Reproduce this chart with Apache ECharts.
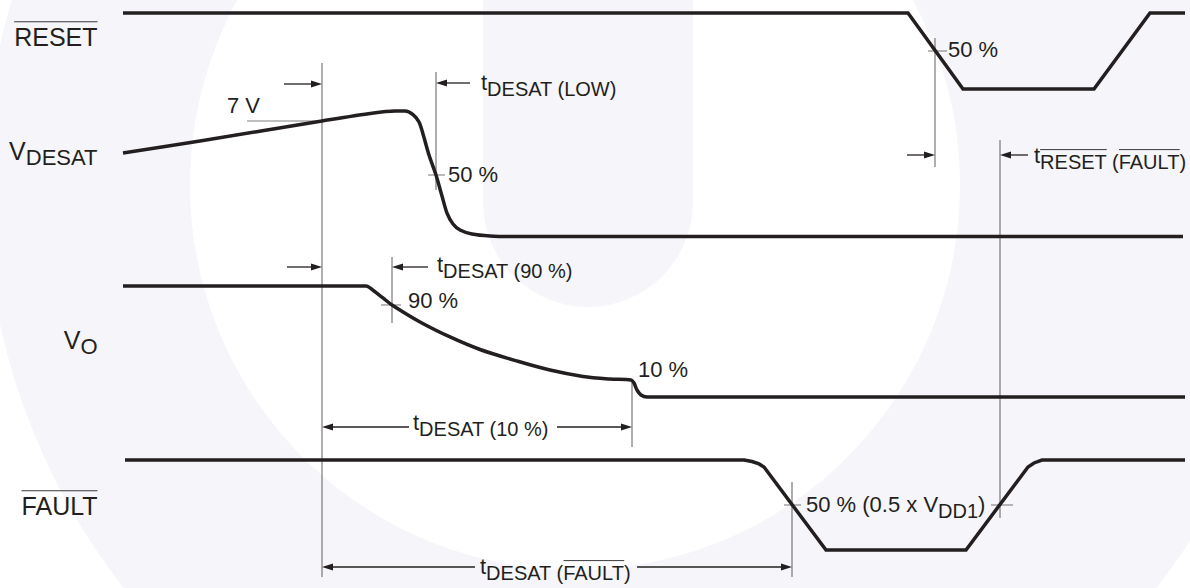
<!DOCTYPE html>
<html>
<head>
<meta charset="utf-8">
<script src="https://cdn.jsdelivr.net/npm/echarts@6/dist/echarts.min.js"></script>
<style>
  html, body { margin: 0; padding: 0; background: #ffffff; }
  #chart { width: 1190px; height: 588px; }
</style>
</head>
<body>
<div id="chart"></div>
<script>
// ================= DATA =================
// Waveforms: time (diagram time units) and normalised level (1 = high, 0 = low)
const resetTime  = [123, 908, 963, 1094, 1150, 1185];
const resetLevel = [1, 1, 0, 0, 1, 1];

const vdesatTime  = [123, 200, 322, 370, 395, 405, 413, 419, 423, 429, 436, 442, 447, 453, 460, 472, 490, 510, 1183];
const vdesatLevel = [0.665, 0.761, 0.920, 0.980, 1, 1, 0.972, 0.912, 0.817, 0.649, 0.490, 0.323, 0.187, 0.100, 0.052, 0.020, 0.004, 0, 0];

const voTime  = [123, 366, 374, 383, 392, 420, 450, 480, 517, 550, 583, 610, 631, 634, 637, 641, 647, 1185];
const voLevel = [1, 1, 0.955, 0.892, 0.829, 0.676, 0.541, 0.428, 0.324, 0.243, 0.185, 0.162, 0.153, 0.126, 0.063, 0.018, 0, 0];

const faultTime  = [125, 744, 752, 759, 764, 826, 966, 1028, 1034, 1042, 1185];
const faultLevel = [1, 1, 0.983, 0.956, 0.922, 0, 0, 0.922, 0.967, 1, 1];

// Event instants: 7 V crossing, tDESAT(LOW) 50 %, VO 90 %, VO 10 %, FAULT 50 %, RESET 50 %, FAULT recovery 50 %
const eventTime = [322, 436, 392, 632, 792, 935, 1000];
// Threshold levels (fraction of swing) used by the tick marks
const thresholdLevel = [0.92, 0.49, 0.829, 0.5, 0.5, 0.5];

// Text content: runs of [text, role('m' main / 's' subscript), overlined substrings]
const signalLabelRuns = [
  [['RESET', 'm', ['RESET']]],
  [['V', 'm', []], ['DESAT', 's', []]],
  [['V', 'm', []], ['O', 's', []]],
  [['FAULT', 'm', ['FAULT']]]
];
const annotationRuns = [
  [['7 V', 'm', []]],
  [['t', 'm', []], ['DESAT (LOW)', 's', []]],
  [['50 %', 'm', []]],
  [['t', 'm', []], ['DESAT (90 %)', 's', []]],
  [['90 %', 'm', []]],
  [['10 %', 'm', []]],
  [['t', 'm', []], ['DESAT (10 %)', 's', []]],
  [['50 %', 'm', []]],
  [['t', 'm', []], ['RESET (FAULT)', 's', ['RESET', 'FAULT']]],
  [['50 % (0.5 x V', 'm', []], ['DD1', 's', []], [')', 'm', []]],
  [['t', 'm', []], ['DESAT (FAULT)', 's', ['FAULT']]]
];

// ================= LAYOUT (positions / sizes) =================
const laneHi = [13, 111, 286, 460];     // y of level 1 for RESET, VDESAT, VO, FAULT
const laneLo = [89, 236.5, 397, 550];   // y of level 0
function laneY(lane, level) { return laneLo[lane] - level * (laneLo[lane] - laneHi[lane]); }

// guide lines: [eventIndex, yTop, yBottom]
const guideSpec = [[0, 63, 577], [1, 72, 190], [2, 257, 323], [3, 380, 447], [4, 482, 577], [5, 38, 167], [6, 140, 518]];
// threshold ticks: [eventIndex, lane, thresholdIndex, extentLeft, extentRight]
const tickSpec = [[0, 1, 0, -75, 0], [1, 1, 1, -8, 9], [2, 2, 2, -11, 9], [5, 0, 3, -7, 12], [4, 3, 4, -8, 9], [6, 3, 5, -9, 13]];
// arrows: [tail x, eventIndex of head, y]
const arrowSpec = [[284, 0, 84], [470, 1, 83], [287, 0, 267], [428, 2, 267], [907, 5, 155], [1028, 6, 155],
                   [409, 0, 427], [557, 3, 427], [475, 0, 567], [637, 4, 567]];
const labelRight = 97.5;
const labelBaseline = [46, 160, 348.5, 515];
const annX = [227, 481, 448, 437, 408, 638, 413, 948, 1034, 806, 480];
const annBaseline = [113.5, 90, 182.5, 272, 308.5, 377, 430, 57.5, 163, 512, 574];

const INK = '#231f20';
const WATERMARK = '#f6f5f9';
const FONT = '"Liberation Sans", Arial, Helvetica, sans-serif';
const measureCtx = document.createElement('canvas').getContext('2d');
function textWidth(t, size) { measureCtx.font = size + 'px ' + FONT; return measureCtx.measureText(t).width; }

const allRuns = signalLabelRuns.concat(annotationRuns);
const textData = [];
labelBaseline.forEach((b, i) => textData.push([labelRight, b, i, 1, 1]));
annX.forEach((x, i) => textData.push([x, annBaseline[i], signalLabelRuns.length + i, 0, 0]));

function renderText(params, api) {
  const p = api.coord([api.value(0), api.value(1)]);
  const runs = allRuns[api.value(2)];
  const right = api.value(3) === 1;
  const isLabel = api.value(4) === 1;
  const mainSize = isLabel ? 25 : 22;
  const subSize = isLabel ? 22 : 20;
  const subDy = isLabel ? 5.5 : 6;
  const widths = runs.map(r => textWidth(r[0], r[1] === 'm' ? mainSize : subSize));
  const total = widths.reduce((a, b) => a + b, 0);
  let x = right ? p[0] - total : p[0];
  const children = [];
  runs.forEach((r, i) => {
    const size = r[1] === 'm' ? mainSize : subSize;
    const base = p[1] + (r[1] === 's' ? subDy : 0);
    children.push({
      type: 'text', x: x, y: base - 0.35 * size,
      style: { text: r[0], fill: INK, font: size + 'px ' + FONT, align: 'left', verticalAlign: 'middle' }
    });
    r[2].forEach(sub => {
      const k = r[0].indexOf(sub);
      const x0 = x + textWidth(r[0].slice(0, k), size);
      const w = textWidth(sub, size);
      const oy = base - size * 0.97;
      children.push({ type: 'line', shape: { x1: x0, y1: oy, x2: x0 + w, y2: oy }, style: { stroke: '#3a3a3a', lineWidth: 1 } });
    });
    x += widths[i];
  });
  return { type: 'group', children: children };
}

const guideData = guideSpec.map(g => [eventTime[g[0]], g[1], eventTime[g[0]], g[2]]);
const tickData = tickSpec.map(s => {
  const y = laneY(s[1], thresholdLevel[s[2]]);
  return [eventTime[s[0]] + s[3], y, eventTime[s[0]] + s[4], y];
});
const arrowData = arrowSpec.map(a => [a[0], eventTime[a[1]], a[2]]);

function segRenderer(color, width) {
  return function (params, api) {
    const a = api.coord([api.value(0), api.value(1)]);
    const b = api.coord([api.value(2), api.value(3)]);
    return { type: 'line', shape: { x1: a[0], y1: a[1], x2: b[0], y2: b[1] }, style: { stroke: color, lineWidth: width } };
  };
}

function renderArrow(params, api) {
  const t = api.coord([api.value(0), api.value(2)]);
  const h = api.coord([api.value(1), api.value(2)]);
  const dir = Math.sign(h[0] - t[0]);
  const L = 11, W = 3.6;
  return {
    type: 'group', children: [
      { type: 'line', shape: { x1: t[0], y1: t[1], x2: h[0] - dir * L * 0.6, y2: h[1] }, style: { stroke: INK, lineWidth: 1.3 } },
      { type: 'polygon', shape: { points: [[h[0], h[1]], [h[0] - dir * L, h[1] - W], [h[0] - dir * L, h[1] + W]] }, style: { fill: INK } }
    ]
  };
}

const waves = [[resetTime, resetLevel, 0, false], [vdesatTime, vdesatLevel, 1, 0.3], [voTime, voLevel, 2, 0.3], [faultTime, faultLevel, 3, false]];

const chart = echarts.init(document.getElementById('chart'), null, { renderer: 'svg' });
chart.setOption({
  animation: false,
  backgroundColor: '#ffffff',
  grid: { left: 0, right: 0, top: 0, bottom: 0 },
  xAxis: { type: 'value', min: 0, max: 1190, show: false },
  yAxis: { type: 'value', min: 0, max: 588, inverse: true, show: false },
  graphic: [
    { type: 'circle', z: -12, silent: true, shape: { cx: 640, cy: 185, r: 655 }, style: { fill: WATERMARK } },
    { type: 'circle', z: -11, silent: true, shape: { cx: 575, cy: 185, r: 385 }, style: { fill: '#ffffff' } },
    { type: 'rect', z: -10, silent: true, shape: { x: 483, y: -120, width: 210, height: 427, r: [0, 0, 105, 105] }, style: { fill: WATERMARK } }
  ],
  series: waves.map(w => ({
    type: 'line', silent: true, z: 5, symbol: 'none', smooth: w[3],
    data: w[0].map((t, i) => [t, laneY(w[2], w[1][i])]),
    lineStyle: { color: INK, width: 3.5, join: 'miter' }
  })).concat([
    { type: 'custom', silent: true, z: 3, renderItem: segRenderer('#5e5e5e', 1), data: guideData },
    { type: 'custom', silent: true, z: 3, renderItem: segRenderer('#808080', 1.1), data: tickData },
    { type: 'custom', silent: true, z: 4, renderItem: renderArrow, data: arrowData },
    { type: 'custom', silent: true, z: 6, renderItem: renderText, data: textData }
  ])
});
</script>
</body>
</html>
